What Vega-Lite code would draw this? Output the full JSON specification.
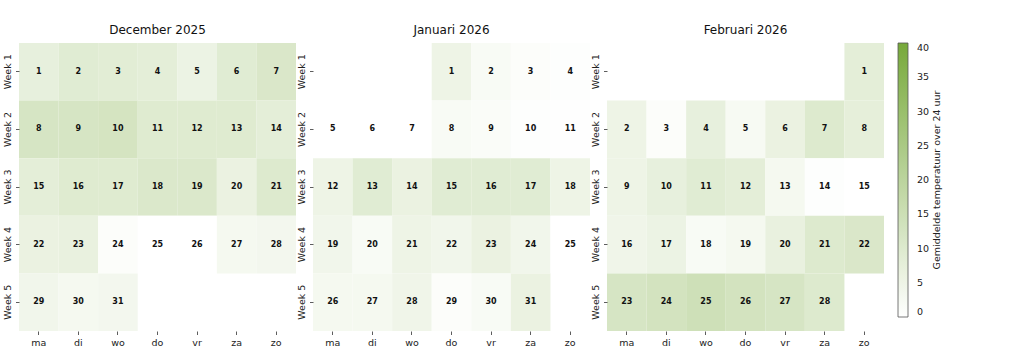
{
  "$schema": "https://vega.github.io/schema/vega-lite/v6.json",
  "padding": {"left": 2, "top": 24, "right": 5, "bottom": 5},
  "config": {
    "font": "DejaVu Sans",
    "view": {"stroke": null},
    "axis": {"domain": false, "tickColor": "#333", "tickSize": 3.5, "tickWidth": 0.8, "labelColor": "#222", "labelFontSize": 9.5, "labelPadding": 3, "title": null, "grid": false},
    "title": {"fontSize": 12, "fontWeight": "normal", "color": "#111", "offset": 6},
    "concat": {"spacing": 0}
  },
  "datasets": {
    "cal": [
      {"m": "December 2025", "w": "Week 1", "d": "ma", "n": 1, "t": 7},
      {"m": "December 2025", "w": "Week 1", "d": "di", "n": 2, "t": 9},
      {"m": "December 2025", "w": "Week 1", "d": "wo", "n": 3, "t": 8.5},
      {"m": "December 2025", "w": "Week 1", "d": "do", "n": 4, "t": 8},
      {"m": "December 2025", "w": "Week 1", "d": "vr", "n": 5, "t": 5.5},
      {"m": "December 2025", "w": "Week 1", "d": "za", "n": 6, "t": 9},
      {"m": "December 2025", "w": "Week 1", "d": "zo", "n": 7, "t": 11},
      {"m": "December 2025", "w": "Week 2", "d": "ma", "n": 8, "t": 12},
      {"m": "December 2025", "w": "Week 2", "d": "di", "n": 9, "t": 12},
      {"m": "December 2025", "w": "Week 2", "d": "wo", "n": 10, "t": 12.5},
      {"m": "December 2025", "w": "Week 2", "d": "do", "n": 11, "t": 9.5},
      {"m": "December 2025", "w": "Week 2", "d": "vr", "n": 12, "t": 9.5},
      {"m": "December 2025", "w": "Week 2", "d": "za", "n": 13, "t": 9.5},
      {"m": "December 2025", "w": "Week 2", "d": "zo", "n": 14, "t": 8},
      {"m": "December 2025", "w": "Week 3", "d": "ma", "n": 15, "t": 8},
      {"m": "December 2025", "w": "Week 3", "d": "di", "n": 16, "t": 9.5},
      {"m": "December 2025", "w": "Week 3", "d": "wo", "n": 17, "t": 9.5},
      {"m": "December 2025", "w": "Week 3", "d": "do", "n": 18, "t": 10.5},
      {"m": "December 2025", "w": "Week 3", "d": "vr", "n": 19, "t": 10.5},
      {"m": "December 2025", "w": "Week 3", "d": "za", "n": 20, "t": 6},
      {"m": "December 2025", "w": "Week 3", "d": "zo", "n": 21, "t": 10},
      {"m": "December 2025", "w": "Week 4", "d": "ma", "n": 22, "t": 6},
      {"m": "December 2025", "w": "Week 4", "d": "di", "n": 23, "t": 6.5},
      {"m": "December 2025", "w": "Week 4", "d": "wo", "n": 24, "t": 1},
      {"m": "December 2025", "w": "Week 4", "d": "do", "n": 25, "t": 0},
      {"m": "December 2025", "w": "Week 4", "d": "vr", "n": 26, "t": 0},
      {"m": "December 2025", "w": "Week 4", "d": "za", "n": 27, "t": 3},
      {"m": "December 2025", "w": "Week 4", "d": "zo", "n": 28, "t": 3.5},
      {"m": "December 2025", "w": "Week 5", "d": "ma", "n": 29, "t": 4},
      {"m": "December 2025", "w": "Week 5", "d": "di", "n": 30, "t": 3},
      {"m": "December 2025", "w": "Week 5", "d": "wo", "n": 31, "t": 3.5},
      {"m": "Januari 2026", "w": "Week 1", "d": "do", "n": 1, "t": 5},
      {"m": "Januari 2026", "w": "Week 1", "d": "vr", "n": 2, "t": 2},
      {"m": "Januari 2026", "w": "Week 1", "d": "za", "n": 3, "t": 1},
      {"m": "Januari 2026", "w": "Week 1", "d": "zo", "n": 4, "t": 0.5},
      {"m": "Januari 2026", "w": "Week 2", "d": "ma", "n": 5, "t": 0},
      {"m": "Januari 2026", "w": "Week 2", "d": "di", "n": 6, "t": 0},
      {"m": "Januari 2026", "w": "Week 2", "d": "wo", "n": 7, "t": 0},
      {"m": "Januari 2026", "w": "Week 2", "d": "do", "n": 8, "t": 2},
      {"m": "Januari 2026", "w": "Week 2", "d": "vr", "n": 9, "t": 1.5},
      {"m": "Januari 2026", "w": "Week 2", "d": "za", "n": 10, "t": 0.5},
      {"m": "Januari 2026", "w": "Week 2", "d": "zo", "n": 11, "t": 0.3},
      {"m": "Januari 2026", "w": "Week 3", "d": "ma", "n": 12, "t": 5},
      {"m": "Januari 2026", "w": "Week 3", "d": "di", "n": 13, "t": 9},
      {"m": "Januari 2026", "w": "Week 3", "d": "wo", "n": 14, "t": 6},
      {"m": "Januari 2026", "w": "Week 3", "d": "do", "n": 15, "t": 9},
      {"m": "Januari 2026", "w": "Week 3", "d": "vr", "n": 16, "t": 9},
      {"m": "Januari 2026", "w": "Week 3", "d": "za", "n": 17, "t": 9},
      {"m": "Januari 2026", "w": "Week 3", "d": "zo", "n": 18, "t": 5},
      {"m": "Januari 2026", "w": "Week 4", "d": "ma", "n": 19, "t": 4},
      {"m": "Januari 2026", "w": "Week 4", "d": "di", "n": 20, "t": 2},
      {"m": "Januari 2026", "w": "Week 4", "d": "wo", "n": 21, "t": 5},
      {"m": "Januari 2026", "w": "Week 4", "d": "do", "n": 22, "t": 4},
      {"m": "Januari 2026", "w": "Week 4", "d": "vr", "n": 23, "t": 6},
      {"m": "Januari 2026", "w": "Week 4", "d": "za", "n": 24, "t": 4},
      {"m": "Januari 2026", "w": "Week 4", "d": "zo", "n": 25, "t": 0},
      {"m": "Januari 2026", "w": "Week 5", "d": "ma", "n": 26, "t": 3},
      {"m": "Januari 2026", "w": "Week 5", "d": "di", "n": 27, "t": 3},
      {"m": "Januari 2026", "w": "Week 5", "d": "wo", "n": 28, "t": 4.5},
      {"m": "Januari 2026", "w": "Week 5", "d": "do", "n": 29, "t": 1},
      {"m": "Januari 2026", "w": "Week 5", "d": "vr", "n": 30, "t": 2},
      {"m": "Januari 2026", "w": "Week 5", "d": "za", "n": 31, "t": 6},
      {"m": "Februari 2026", "w": "Week 1", "d": "zo", "n": 1, "t": 8},
      {"m": "Februari 2026", "w": "Week 2", "d": "ma", "n": 2, "t": 5},
      {"m": "Februari 2026", "w": "Week 2", "d": "di", "n": 3, "t": 1},
      {"m": "Februari 2026", "w": "Week 2", "d": "wo", "n": 4, "t": 7},
      {"m": "Februari 2026", "w": "Week 2", "d": "do", "n": 5, "t": 2.5},
      {"m": "Februari 2026", "w": "Week 2", "d": "vr", "n": 6, "t": 6},
      {"m": "Februari 2026", "w": "Week 2", "d": "za", "n": 7, "t": 10},
      {"m": "Februari 2026", "w": "Week 2", "d": "zo", "n": 8, "t": 7.5},
      {"m": "Februari 2026", "w": "Week 3", "d": "ma", "n": 9, "t": 5},
      {"m": "Februari 2026", "w": "Week 3", "d": "di", "n": 10, "t": 7},
      {"m": "Februari 2026", "w": "Week 3", "d": "wo", "n": 11, "t": 9},
      {"m": "Februari 2026", "w": "Week 3", "d": "do", "n": 12, "t": 8},
      {"m": "Februari 2026", "w": "Week 3", "d": "vr", "n": 13, "t": 3},
      {"m": "Februari 2026", "w": "Week 3", "d": "za", "n": 14, "t": 0.5},
      {"m": "Februari 2026", "w": "Week 3", "d": "zo", "n": 15, "t": 0},
      {"m": "Februari 2026", "w": "Week 4", "d": "ma", "n": 16, "t": 4.5},
      {"m": "Februari 2026", "w": "Week 4", "d": "di", "n": 17, "t": 5.5},
      {"m": "Februari 2026", "w": "Week 4", "d": "wo", "n": 18, "t": 2},
      {"m": "Februari 2026", "w": "Week 4", "d": "do", "n": 19, "t": 3},
      {"m": "Februari 2026", "w": "Week 4", "d": "vr", "n": 20, "t": 6.5},
      {"m": "Februari 2026", "w": "Week 4", "d": "za", "n": 21, "t": 10},
      {"m": "Februari 2026", "w": "Week 4", "d": "zo", "n": 22, "t": 11},
      {"m": "Februari 2026", "w": "Week 5", "d": "ma", "n": 23, "t": 12},
      {"m": "Februari 2026", "w": "Week 5", "d": "di", "n": 24, "t": 13},
      {"m": "Februari 2026", "w": "Week 5", "d": "wo", "n": 25, "t": 14.5},
      {"m": "Februari 2026", "w": "Week 5", "d": "do", "n": 26, "t": 13},
      {"m": "Februari 2026", "w": "Week 5", "d": "vr", "n": 27, "t": 12},
      {"m": "Februari 2026", "w": "Week 5", "d": "za", "n": 28, "t": 10}
    ]
  },
  "hconcat": [
    {
      "title": "December 2025",
      "width": 277, "height": 288,
      "data": {"name": "cal"},
      "transform": [{"filter": "datum.m === 'December 2025'"}],
      "encoding": {
        "x": {"field": "d", "type": "nominal", "sort": ["ma","di","wo","do","vr","za","zo"], "scale": {"domain": ["ma","di","wo","do","vr","za","zo"]}, "axis": {"labelAngle": 0, "orient": "bottom"}},
        "y": {"field": "w", "type": "nominal", "scale": {"domain": ["Week 1","Week 2","Week 3","Week 4","Week 5"]}, "axis": {"labelAngle": -90, "labelAlign": "center", "labelBaseline": "bottom"}}
      },
      "layer": [
        {"mark": {"type": "rect"}, "encoding": {"color": {"field": "t", "type": "quantitative", "scale": {"domain": [0, 40], "range": ["#ffffff", "#77a93a"], "interpolate": "rgb", "clamp": true}, "legend": {"title": "Gemiddelde temperatuur over 24 uur", "values": [0,5,10,15,20,25,30,35,40], "offset": 14, "gradientLength": 274, "gradientThickness": 10, "gradientStrokeColor": "#555", "gradientStrokeWidth": 0.8, "titleOrient": "right", "titleAnchor": "middle", "titlePadding": 3, "titleFontSize": 9.5, "titleFontWeight": "normal", "titleColor": "#222", "labelFontSize": 9.5, "labelColor": "#222", "labelOffset": 9, "direction": "vertical", "encode": {"title": {"update": {"angle": {"value": 270}, "baseline": {"value": "top"}}}}}}}},
        {"mark": {"type": "text", "fontWeight": "bold", "fontSize": 8, "color": "#111"}, "encoding": {"text": {"field": "n", "type": "quantitative"}}}
      ]
    },
    {
      "title": "Januari 2026",
      "width": 277, "height": 288,
      "data": {"name": "cal"},
      "transform": [{"filter": "datum.m === 'Januari 2026'"}],
      "encoding": {
        "x": {"field": "d", "type": "nominal", "sort": ["ma","di","wo","do","vr","za","zo"], "scale": {"domain": ["ma","di","wo","do","vr","za","zo"]}, "axis": {"labelAngle": 0, "orient": "bottom"}},
        "y": {"field": "w", "type": "nominal", "scale": {"domain": ["Week 1","Week 2","Week 3","Week 4","Week 5"]}, "axis": {"labelAngle": -90, "labelAlign": "center", "labelBaseline": "bottom"}}
      },
      "layer": [
        {"mark": {"type": "rect"}, "encoding": {"color": {"field": "t", "type": "quantitative", "scale": {"domain": [0, 40], "range": ["#ffffff", "#77a93a"], "interpolate": "rgb", "clamp": true}}}},
        {"mark": {"type": "text", "fontWeight": "bold", "fontSize": 8, "color": "#111"}, "encoding": {"text": {"field": "n", "type": "quantitative"}}}
      ]
    },
    {
      "title": "Februari 2026",
      "width": 277, "height": 288,
      "data": {"name": "cal"},
      "transform": [{"filter": "datum.m === 'Februari 2026'"}],
      "encoding": {
        "x": {"field": "d", "type": "nominal", "sort": ["ma","di","wo","do","vr","za","zo"], "scale": {"domain": ["ma","di","wo","do","vr","za","zo"]}, "axis": {"labelAngle": 0, "orient": "bottom"}},
        "y": {"field": "w", "type": "nominal", "scale": {"domain": ["Week 1","Week 2","Week 3","Week 4","Week 5"]}, "axis": {"labelAngle": -90, "labelAlign": "center", "labelBaseline": "bottom"}}
      },
      "layer": [
        {"mark": {"type": "rect"}, "encoding": {"color": {"field": "t", "type": "quantitative", "scale": {"domain": [0, 40], "range": ["#ffffff", "#77a93a"], "interpolate": "rgb", "clamp": true}}}},
        {"mark": {"type": "text", "fontWeight": "bold", "fontSize": 8, "color": "#111"}, "encoding": {"text": {"field": "n", "type": "quantitative"}}}
      ]
    }
  ],
  "resolve": {"scale": {"x": "independent", "y": "independent", "color": "shared"}}
}
